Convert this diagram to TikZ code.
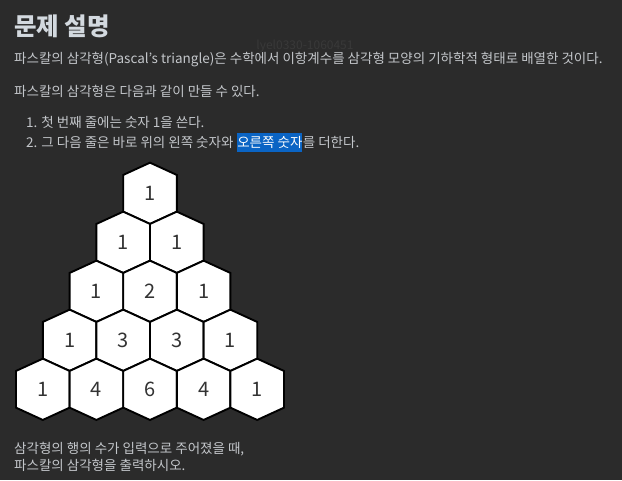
\documentclass[tikz,border=0pt]{standalone}
\usepackage{fontspec}
\setmainfont{Noto Sans CJK KR}
\usetikzlibrary{positioning}

\definecolor{bgdark}{HTML}{2B2B2B}
\definecolor{txtgray}{HTML}{C3C6CA}
\definecolor{titlegray}{HTML}{D3D9DF}
\definecolor{markgray}{HTML}{393939}
\definecolor{selblue}{HTML}{0A64C4}
\definecolor{digitgray}{HTML}{333333}

\newcommand{\hexw}{26.8}
\newcommand{\hexh}{30.65}
\newcommand{\hext}{12.3}

\tikzset{
  bodytext/.style={anchor=west,inner sep=0pt,text=txtgray,font=\fontsize{13.5}{16}\selectfont},
  hexcell/.style={fill=white,draw=black,line width=1.9pt,line join=miter},
  hexnum/.style={text=digitgray,font=\fontsize{20}{22}\selectfont}
}

\begin{document}
\begin{tikzpicture}[x=1pt,y=-1pt]
    \fill[bgdark] (0,0) rectangle (622,480);
    \useasboundingbox (0,0) rectangle (622,480);
    \node[anchor=west,inner sep=0pt,text=titlegray,font=\fontsize{24.5}{28}\selectfont\bfseries] (title) at (14,26) {문제 설명};
    \node[inner sep=0pt,text=markgray,font=\fontsize{12}{14}\selectfont] (mark) at (305,46) {lyel0330-1060451};
    \node[bodytext] (line1) at (14,59.5) {파스칼의 삼각형(Pascal's triangle)은 수학에서 이항계수를 삼각형 모양의 기하학적 형태로 배열한 것이다.};
    \node[bodytext] (line2) at (14,91) {파스칼의 삼각형은 다음과 같이 만들 수 있다.};
    \node[bodytext] (item1) at (26,122.5) {1. 첫 번째 줄에는 숫자 1을 쓴다.};
    \node[bodytext] (item2a) at (26,142.5) {2. 그 다음 줄은 바로 위의 왼쪽 숫자와};
    \node[bodytext,fill=selblue,text=white,inner ysep=3.5pt,right=3.4pt of item2a] (item2b) {오른쪽 숫자};
    \node[bodytext,right=0pt of item2b] (item2c) {를 더한다.};
    \foreach \r/\vals in {0/{1},1/{1,1},2/{1,2,1},3/{1,3,3,1},4/{1,4,6,4,1}} {
        \foreach \v [count=\c from 0] in \vals {
            \pgfmathsetmacro{\cx}{150+(2*\c-\r)*\hexw}
            \pgfmathsetmacro{\cy}{193.3+\r*(2*\hexh-\hext)}
            \draw[hexcell] (\cx,\cy-\hexh) -- ++(\hexw,\hext) -- ++(0,2*\hexh-2*\hext) -- ++(-\hexw,\hext)
                -- ++(-\hexw,-\hext) -- ++(0,-2*\hexh+2*\hext) -- cycle;
            \node[hexnum] (n-\r-\c) at (\cx,\cy) {\v};
        }
    }
    \node[bodytext] (last1) at (14,449.3) {삼각형의 행의 수가 입력으로 주어졌을 때,};
    \node[bodytext] (last2) at (14,465.3) {파스칼의 삼각형을 출력하시오.};
\end{tikzpicture}
\end{document}
